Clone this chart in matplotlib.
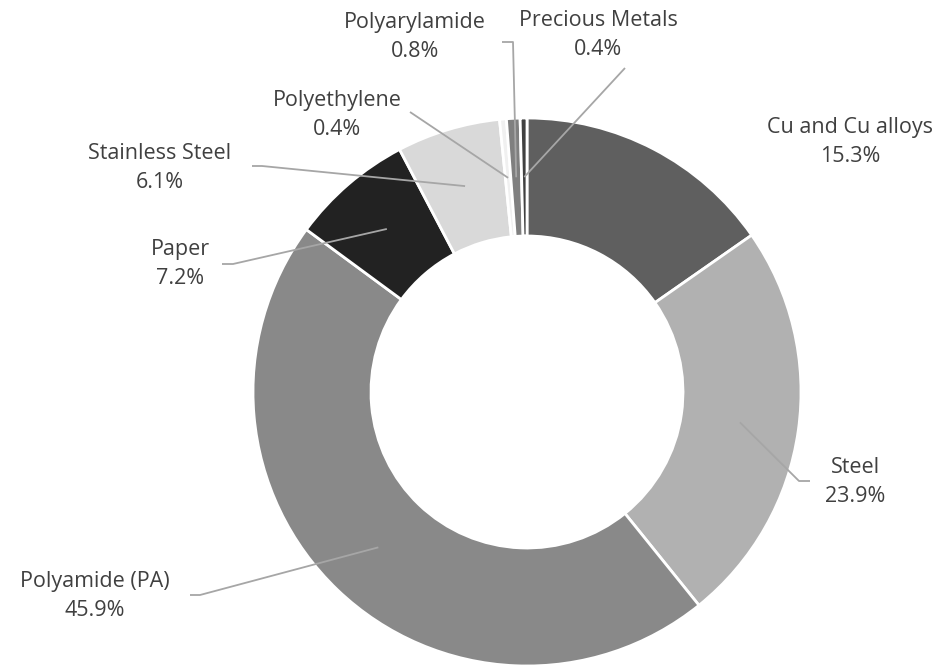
import matplotlib
matplotlib.use("Agg")
import matplotlib.pyplot as plt
import numpy as np

categories = ["Cu and Cu alloys", "Steel", "Polyamide (PA)", "Paper",
              "Stainless Steel", "Polyethylene", "Polyarylamide", "Precious Metals"]
values = [15.3, 23.9, 45.9, 7.2, 6.1, 0.4, 0.8, 0.4]
colors = ["#5f5f5f", "#b1b1b1", "#898989", "#222222",
          "#d9d9d9", "#f0f0f0", "#7f7f7f", "#404040"]

W, H = 947, 669
fig = plt.figure(figsize=(W / 100, H / 100), dpi=100)
ax = fig.add_axes([0, 0, 1, 1])

cx, cy = 527, H - 392
R = 274
width = 118
wedges, _ = ax.pie(values, colors=colors, startangle=90, counterclock=False,
                   radius=R, center=(cx, cy), frame=True,
                   wedgeprops=dict(width=width, edgecolor="white", linewidth=2))
ax.set_xlim(0, W)
ax.set_ylim(0, H)
ax.set_aspect("equal")
ax.axis("off")

# label layout: text centre (px from top) and leader elbow points
layout = [
    ((850, 142), None),
    ((855, 482), ((810, 481), (799, 481))),
    ((95, 596), ((190, 595), (200, 595))),
    ((180, 264), ((222, 264), (233, 264))),
    ((160, 168), ((252, 166), (262, 166))),
    ((337, 115), ((410, 112), (410, 112))),
    ((415, 37), ((502, 42), (513, 42))),
    ((598, 35), ((625, 68), (625, 68))),
]

rmid = R - width / 2
line_c = "#a6a6a6"
text_c = "#404040"
for w, name, val, (tpos, leader) in zip(wedges, categories, values, layout):
    ang = np.deg2rad((w.theta1 + w.theta2) / 2)
    ax_ = cx + rmid * np.cos(ang)
    ay_ = cy + rmid * np.sin(ang)
    if leader is not None:
        (x0, y0), (x1, y1) = leader
        ax.plot([x0, x1, ax_], [H - y0, H - y1, ay_], color=line_c, lw=1.3,
                solid_capstyle="butt", zorder=3)
    ax.text(tpos[0], H - tpos[1], f"{name}\n{val:.1f}%", ha="center", va="center",
            fontsize=15.5, color=text_c, family="Open Sans", linespacing=1.5)

fig.savefig("out.png", dpi=100)
